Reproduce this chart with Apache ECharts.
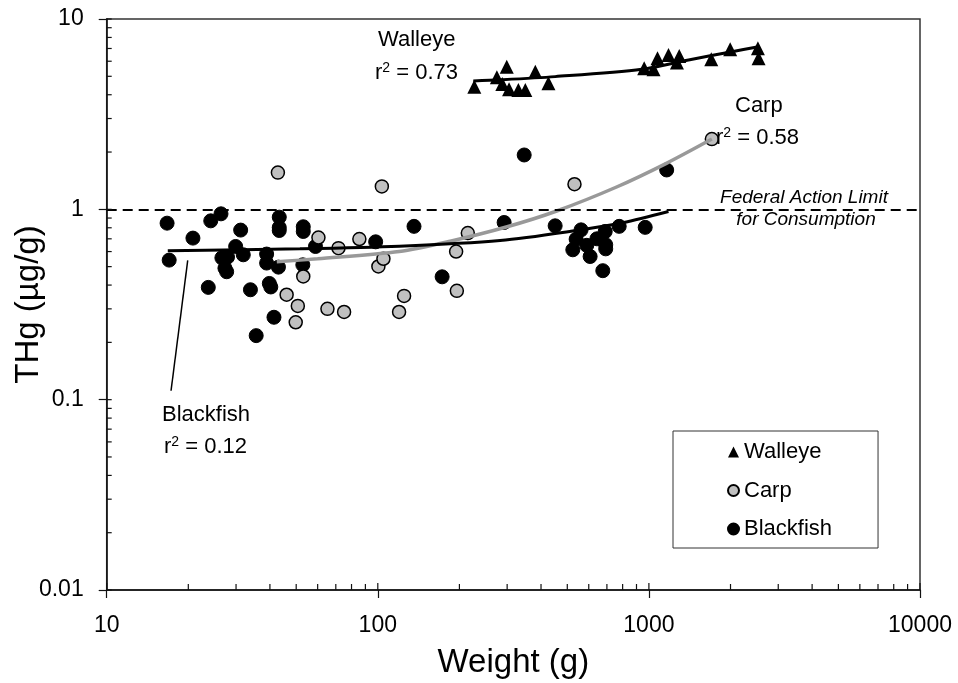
<!DOCTYPE html>
<html>
<head>
<meta charset="utf-8">
<title>THg vs Weight</title>
<script src="https://cdn.jsdelivr.net/npm/echarts@6/dist/echarts.min.js"></script>
<style>
  html, body { margin: 0; padding: 0; background: #fff; }
  #chart { width: 958px; height: 683px; }
</style>
</head>
<body>
<div id="chart"></div>
<script>
// ---- data: [weight (g), THg (ug/g)] ----
const walleyeData = [
  [227, 4.41], [275, 4.94], [288, 4.56], [305, 4.28], [299, 5.62], [330, 4.24],
  [350, 4.24], [381, 5.29], [426, 4.60], [961, 5.51], [1040, 5.45], [1076, 6.22],
  [1181, 6.47], [1294, 6.39], [1269, 5.90], [1698, 6.14], [1995, 6.93], [2524, 7.02],
  [2538, 6.22]
]
const carpData = [
  [42.8, 1.56], [103.5, 1.32], [60.4, 0.711], [71.6, 0.625], [85.5, 0.698], [100.5, 0.501],
  [104.9, 0.550], [194.5, 0.600], [214.8, 0.750], [195.7, 0.373], [125, 0.351], [119.8, 0.289],
  [75.1, 0.289], [65.2, 0.300], [53.1, 0.444], [46.1, 0.356], [50.7, 0.311], [49.8, 0.255],
  [531.5, 1.355], [1707, 2.34]
]
const blackfishData = [
  [16.7, 0.846], [17.0, 0.541], [20.8, 0.706], [24.2, 0.870], [26.4, 0.947], [23.7, 0.389],
  [26.6, 0.556], [27.9, 0.561], [27.3, 0.491], [27.7, 0.470], [29.9, 0.638], [31.2, 0.778],
  [31.9, 0.577], [33.9, 0.378], [35.6, 0.217], [38.9, 0.582], [38.9, 0.522], [39.8, 0.408],
  [40.3, 0.391], [41.4, 0.271], [43.0, 0.497], [43.3, 0.910], [43.3, 0.803], [43.3, 0.774],
  [52.9, 0.511], [53.1, 0.810], [53.1, 0.765], [58.9, 0.638], [98.2, 0.675], [136, 0.814],
  [172.7, 0.442], [346.7, 1.93], [292.4, 0.853], [451, 0.819], [562, 0.780], [539, 0.697],
  [524, 0.613], [590, 0.647], [607, 0.565], [643, 0.700], [690, 0.765], [693, 0.651],
  [693, 0.620], [676, 0.476], [777, 0.814], [969, 0.804], [1163, 1.61]
]

// trend lines
const walleyeTrend = [[225, 4.73], [283, 4.79], [451, 4.98], [942, 5.45], [1400, 6.09], [2023, 6.73], [2538, 7.15]]
const carpTrend = [[42.4, 0.53], [60, 0.55], [120, 0.60], [185, 0.68], [300, 0.81], [457, 0.98], [760, 1.31], [1165, 1.75], [1707, 2.34]]
const blackfishTrend = [[16.8, 0.605], [51.6, 0.62], [120, 0.64], [282.6, 0.686], [542, 0.775], [800, 0.85], [1181, 0.974]]
const blackfishPointer = [[19.9, 0.539], [17.27, 0.1114]]

const actionLimit = 1

// axis ticks
const xMajorTicks = [10, 100, 1000, 10000]
const xMinorTicks = [20, 30, 40, 50, 60, 70, 80, 90, 200, 300, 400, 500, 600, 700, 800, 900,
  2000, 3000, 4000, 5000, 6000, 7000, 8000, 9000]
const yMajorTicks = [0.01, 0.1, 1, 10]
const yMinorTicks = [0.02, 0.03, 0.04, 0.05, 0.06, 0.07, 0.08, 0.09, 0.2, 0.3, 0.4, 0.5, 0.6, 0.7, 0.8, 0.9,
  2, 3, 4, 5, 6, 7, 8, 9]

const FONT = "'Liberation Sans', Arial, sans-serif"

const chart = echarts.init(document.getElementById('chart'))

// inward ticks drawn through the axes' own scales
const tickSeries = (data, horizontal) => ({
  type: 'custom',
  silent: true,
  clip: false,
  z: 5,
  data,
  renderItem: (params, api) => {
    const p = api.coord([api.value(0), api.value(1)])
    const len = api.value(2)
    const shape = horizontal
      ? { x1: p[0], y1: p[1], x2: p[0], y2: p[1] - len }
      : { x1: p[0], y1: p[1], x2: p[0] + len, y2: p[1] }
    return { type: 'line', shape, style: { stroke: '#111', lineWidth: 1.2 } }
  }
})

const xTickData = xMinorTicks.map(v => [v, 0.01, 6]).concat(xMajorTicks.map(v => [v, 0.01, 7]))
const yTickData = yMinorTicks.map(v => [10, v, 5]).concat(yMajorTicks.map(v => [10, v, 5]))

const r2 = (val) => 'r{sup|2}{n| = ' + val + '}'
const annoRich = {
  n: { fontSize: 22, fontFamily: FONT, fill: '#000', lineHeight: 24 },
  sup: { fontSize: 14, fontFamily: FONT, fill: '#000', verticalAlign: 'top', lineHeight: 24, padding: [0, 0, 10, 0] }
}
const annoText = (x, y, text, extra) => ({
  type: 'text',
  x, y,
  z: 100,
  style: Object.assign({
    text,
    fontSize: 22,
    fontFamily: FONT,
    fill: '#000',
    align: 'left',
    verticalAlign: 'middle',
    rich: annoRich
  }, extra || {})
})

const option = {
  backgroundColor: '#fff',
  animation: false,
  grid: {
    left: 106.7, right: 38, top: 19, bottom: 93,
    containLabel: false, outerBoundsMode: 'none',
    show: true, borderColor: '#333', borderWidth: 1.5, backgroundColor: 'transparent'
  },
  xAxis: {
    type: 'log', logBase: 10, min: 10, max: 10000,
    name: 'Weight (g)', nameLocation: 'middle', nameGap: 56, nameMoveOverlap: false,
    nameTextStyle: { fontSize: 33, fontFamily: FONT, color: '#000' },
    axisLine: { lineStyle: { color: '#111', width: 1.5 } },
    axisTick: { inside: false, length: 8, lineStyle: { color: '#111', width: 1.2 } },
    axisLabel: { fontSize: 23, fontFamily: FONT, color: '#000', margin: 24, formatter: v => String(+(+v).toPrecision(6)) },
    splitLine: { show: false }
  },
  yAxis: {
    type: 'log', logBase: 10, min: 0.01, max: 10,
    name: 'THg (µg/g)', nameLocation: 'middle', nameGap: 61, nameMoveOverlap: false,
    nameTextStyle: { fontSize: 33, fontFamily: FONT, color: '#000' },
    axisLine: { lineStyle: { color: '#111', width: 1.5 } },
    axisTick: { inside: false, length: 8, lineStyle: { color: '#111', width: 1.2 } },
    axisLabel: { fontSize: 23, fontFamily: FONT, color: '#000', margin: 23, formatter: v => String(+(+v).toPrecision(6)) },
    splitLine: { show: false }
  },
  legend: {
    data: ['Walleye', 'Carp', 'Blackfish'],
    orient: 'vertical',
    left: 673, top: 431,
    padding: [10, 46, 8, 54],
    itemGap: 16.5,
    itemWidth: 11, itemHeight: 11,
    borderColor: '#333', borderWidth: 1,
    backgroundColor: '#fff',
    textStyle: { fontSize: 22, fontFamily: FONT, color: '#000', lineHeight: 22 }
  },
  graphic: [
    annoText(378, 40, 'Walleye'),
    annoText(375, 73, r2('0.73')),
    annoText(735, 106, 'Carp'),
    annoText(716, 138, r2('0.58')),
    annoText(804, 198, 'Federal Action Limit', { align: 'center', fontSize: 19, fontStyle: 'italic' }),
    annoText(806, 220, 'for Consumption', { align: 'center', fontSize: 19, fontStyle: 'italic' }),
    annoText(162, 415, 'Blackfish'),
    annoText(164, 447, r2('0.12'))
  ],
  series: [
    {
      name: 'Blackfish', type: 'scatter', data: blackfishData,
      symbol: 'circle', symbolSize: 14,
      itemStyle: { color: '#000', borderColor: '#000', borderWidth: 1, opacity: 1 },
      markLine: {
        silent: true, symbol: 'none', animation: false,
        label: { show: false },
        lineStyle: { color: '#000', type: [10, 6], width: 2 },
        data: [{ yAxis: actionLimit }]
      },
      z: 3
    },
    {
      name: 'Carp', type: 'scatter', data: carpData,
      symbol: 'circle', symbolSize: 13,
      itemStyle: { color: '#c0c0c0', borderColor: '#000', borderWidth: 1.5, opacity: 1 },
      z: 3
    },
    {
      name: 'Walleye', type: 'scatter', data: walleyeData,
      symbol: 'triangle', symbolSize: 14,
      itemStyle: { color: '#000', opacity: 1 },
      z: 3
    },
    {
      name: 'walleye fit', type: 'line', data: walleyeTrend, smooth: 0.3,
      showSymbol: false, silent: true,
      lineStyle: { color: '#000', width: 3 }, z: 4
    },
    {
      name: 'carp fit', type: 'line', data: carpTrend, smooth: 0.3,
      showSymbol: false, silent: true,
      lineStyle: { color: '#999', width: 3.5 }, z: 4
    },
    {
      name: 'blackfish fit', type: 'line', data: blackfishTrend, smooth: 0.3,
      showSymbol: false, silent: true,
      lineStyle: { color: '#000', width: 3 }, z: 4
    },
    {
      name: 'blackfish pointer', type: 'line', data: blackfishPointer,
      showSymbol: false, silent: true,
      lineStyle: { color: '#000', width: 1.5 }, z: 4
    },
    tickSeries(xTickData, true),
    tickSeries(yTickData, false)
  ]
}

chart.setOption(option)
window.addEventListener('resize', () => chart.resize())
</script>
</body>
</html>
